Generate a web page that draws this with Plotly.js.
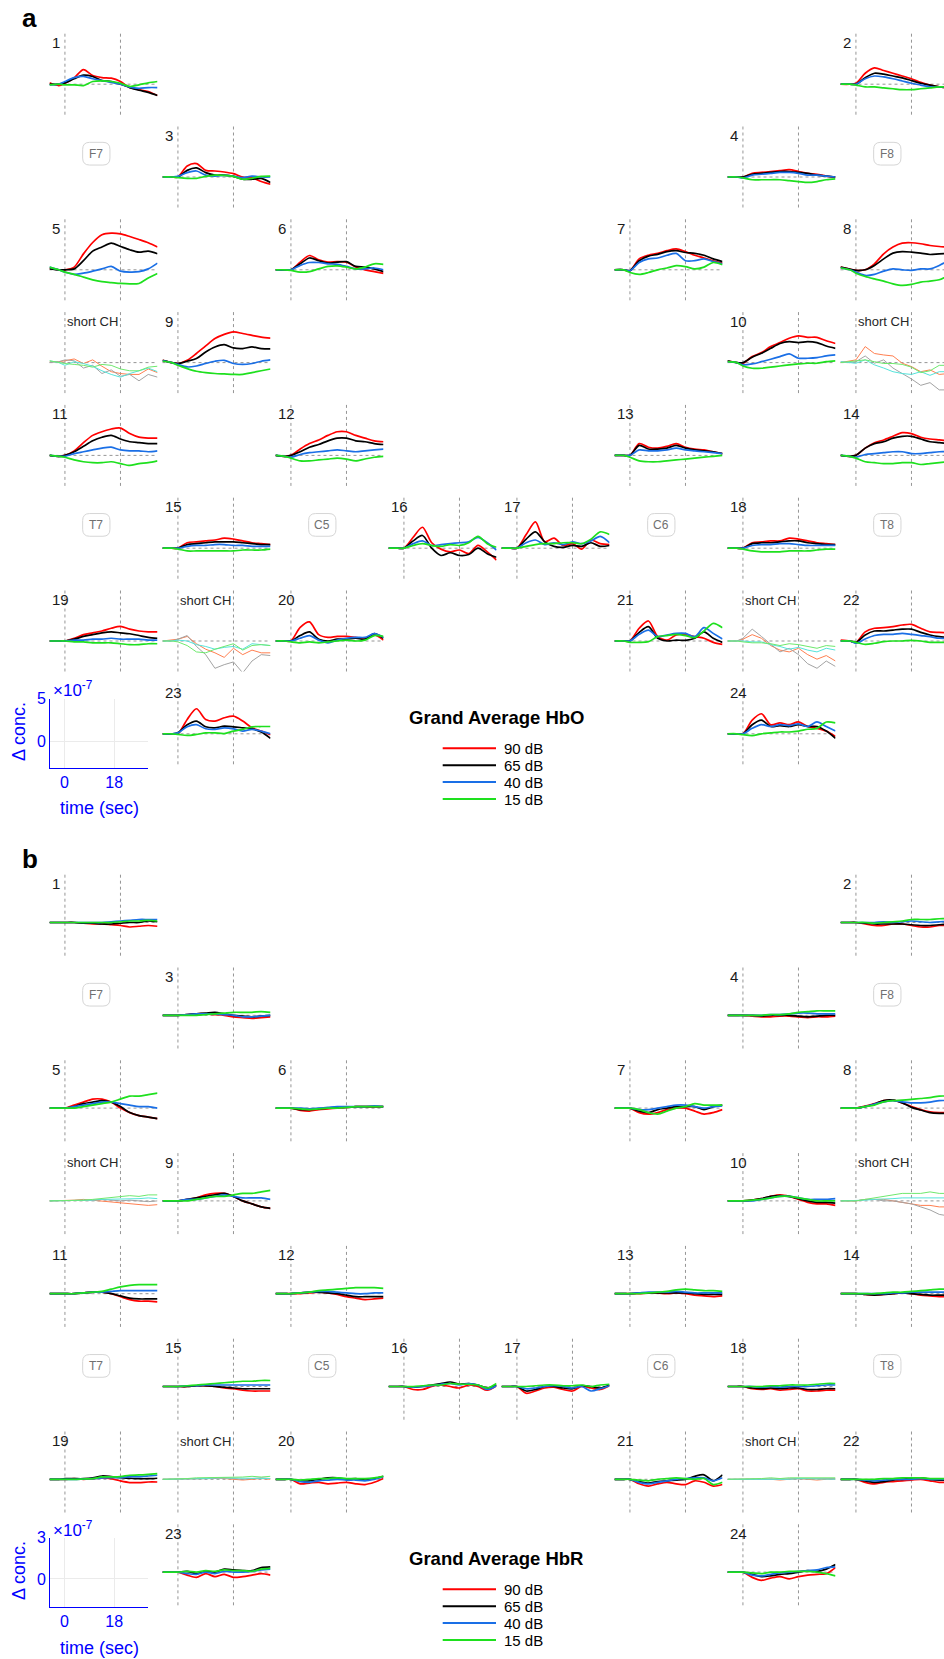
<!DOCTYPE html>
<html><head><meta charset="utf-8">
<script src="https://cdn.plot.ly/plotly-3.0.1.min.js"></script>
<style>html,body{margin:0;padding:0;background:#fff}#chart{width:944px;height:1659px}</style>
</head><body><div id="chart"></div>
<script>
// time samples (sec)
const T = [-5,-2,0,3,6,9,12,15,18,21,24,27,30];
const CONDITIONS = ['90 dB','65 dB','40 dB','15 dB'];
const TIME_TICKS = [0,18];
const HbO_YTICKS = [0,5];
const HbR_YTICKS = [0,3];
const ELECTRODES = ['F7','F8','T7','C5','C6','T8'];

// ---- HbO (x1e-7), order: 90, 65, 40, 15 dB ----
const HbO_1 = [[0.15,-0.15,0.1,0.7,1.6,0.95,0.73,0.66,0.3,-0.37,-0.6,-0.8,-1.25],[0,0,0.15,0.6,1.0,0.85,0.4,0.3,0,-0.37,-0.66,-0.9,-1.25],[-0.07,0,0.3,0.73,0.85,0.6,0.4,0.2,0,-0.33,-0.45,-0.37,-0.37],[-0.07,0,-0.07,-0.07,-0.15,0.3,0.37,0.3,0.1,-0.25,-0.07,0.15,0.3]];
const HbO_2 = [[0,0,0.1,1.2,1.8,1.5,1.2,0.9,0.6,0.2,-0.1,-0.3,-0.4],[0,0,0,0.7,1.2,1.1,0.9,0.7,0.4,0.1,-0.1,-0.3,-0.4],[0,0,0,0.6,0.9,0.8,0.6,0.35,0.1,-0.1,-0.3,-0.3,-0.3],[0,0,-0.1,-0.3,-0.3,-0.4,-0.5,-0.6,-0.6,-0.5,-0.4,-0.3,-0.3]];
const HbO_3 = [[0,0,0,1.2,1.47,0.73,0.66,0.55,0.37,0,-0.07,-0.5,-0.8],[0,0,0,0.73,1.0,0.48,0.2,0.2,0.07,-0.25,-0.25,-0.15,-0.6],[0,0,0.07,0.48,0.66,0.2,0.1,0.18,0.1,-0.07,0.1,0,0],[0,0,-0.07,-0.15,-0.15,0.07,0.2,0.18,0.07,-0.25,-0.15,0.07,0.1]];
const HbO_4 = [[0,0,0,0.4,0.5,0.6,0.7,0.8,0.6,0.4,0.3,0.1,0],[0,0,0,0.3,0.4,0.5,0.6,0.6,0.5,0.4,0.2,0.1,0],[0,0,-0.1,0.2,0.3,0.4,0.5,0.5,0.4,0.2,0.2,0.1,0],[0,0,-0.1,-0.3,-0.3,-0.3,-0.3,-0.4,-0.5,-0.6,-0.5,-0.3,-0.2]];
const HbO_5 = [[0.2,0,0,0.3,1.75,3.0,3.85,4.03,3.95,3.66,3.33,2.97,2.5],[0.1,0,0,0.1,1.0,2.05,2.5,2.93,2.56,2.2,1.94,2.05,1.76],[0.3,0,-0.25,-0.5,-0.37,-0.15,0.1,0.37,-0.15,-0.25,-0.2,0.1,0.73],[0.3,0,-0.25,-0.5,-0.8,-1.1,-1.3,-1.4,-1.5,-1.55,-1.5,-0.9,-0.4]];
const HbO_6 = [[0,0,0,0.84,1.57,1.1,0.84,0.9,0.84,0.3,0,-0.2,-0.4],[0,0,0,0.66,1.3,1.0,0.73,0.84,0.9,0.37,0.3,0.1,-0.2],[0,0,0,0.48,0.8,0.8,0.66,0.6,0.37,0.1,0.1,0.2,0],[0,0,-0.07,-0.25,-0.2,0.1,0.37,0.44,0.3,0.1,0.3,0.66,0.6]];
const HbO_7 = [[0,0,-0.1,1.2,1.6,1.8,2.1,2.3,2.0,1.6,1.3,1.0,0.75],[0,0,-0.1,1.0,1.5,1.7,2.0,2.1,1.9,1.8,1.6,1.2,0.9],[0,0,-0.1,0.8,1.2,1.3,1.6,1.8,1.0,1.0,1.2,0.9,0.66],[0,0,-0.3,-0.5,-0.3,0,0.2,0.45,0.35,0.1,0.3,0.8,0.55]];
const HbO_8 = [[0.3,0.07,-0.07,0,0.66,1.76,2.5,2.93,2.97,2.86,2.67,2.56,2.5],[0.3,0.07,-0.07,0,0.48,1.2,1.83,2.0,1.94,1.83,1.68,1.76,1.8],[0.2,0,-0.25,-0.62,-0.5,-0.15,0.1,0,-0.07,0.1,0.1,0.48,1.0],[0.2,0,-0.37,-0.73,-1.0,-1.25,-1.54,-1.72,-1.6,-1.35,-1.25,-1.1,-0.62]];
const HbO_9 = [[0.25,0,-0.1,0.25,1.0,1.83,2.64,3.1,3.37,3.2,3.0,2.8,2.7],[0.25,0,-0.1,0.15,0.44,1.17,1.72,1.98,1.61,1.54,1.72,1.54,1.5],[0.2,0,-0.2,-0.48,-0.37,-0.1,0.15,0.25,-0.1,-0.2,-0.1,0.15,0.3],[0.15,0,-0.3,-0.66,-0.95,-1.1,-1.2,-1.25,-1.3,-1.3,-1.1,-0.9,-0.7]];
const HbO_10 = [[0.2,0,-0.07,0.66,1.1,1.76,2.2,2.67,2.93,2.78,2.78,2.4,2.1],[0.2,0,0,0.6,1.03,1.57,2.1,2.3,2.2,2.3,2.2,1.83,1.57],[0.1,0,-0.25,-0.15,0.1,0.37,0.66,0.95,0.48,0.48,0.55,0.73,0.84],[0.1,0,-0.37,-0.62,-0.62,-0.5,-0.37,-0.25,-0.15,-0.07,-0.07,0.1,0.2]];
const HbO_11 = [[0,-0.1,0,0.5,1.4,2.2,2.6,2.9,3.0,2.4,2.0,1.9,1.9],[0,-0.1,0,0.4,1.0,1.6,2.0,2.2,1.8,1.5,1.4,1.3,1.3],[0,-0.1,-0.1,0.2,0.4,0.6,0.8,0.9,0.6,0.5,0.5,0.4,0.5],[0,-0.1,-0.2,-0.5,-0.7,-0.8,-0.8,-0.7,-0.9,-1.1,-0.9,-0.8,-0.6]];
const HbO_12 = [[0,-0.1,0,0.7,1.3,1.7,2.2,2.6,2.6,2.2,1.9,1.6,1.5],[0,-0.1,0,0.4,0.9,1.2,1.6,1.9,1.9,1.6,1.5,1.3,1.2],[0,-0.1,-0.2,0.1,0.3,0.4,0.5,0.6,0.5,0.4,0.5,0.6,0.7],[0,-0.1,-0.3,-0.6,-0.6,-0.5,-0.4,-0.3,-0.4,-0.6,-0.4,-0.2,-0.1]];
const HbO_13 = [[0,0,0,1.3,0.9,0.8,1.0,1.3,0.9,0.7,0.6,0.4,0.2],[0,0,0,1.1,0.7,0.7,0.8,1.1,0.8,0.6,0.5,0.4,0.2],[0,0,0,0.6,0.5,0.5,0.6,0.8,0.6,0.5,0.4,0.3,0.2],[0,0,-0.2,-0.6,-0.7,-0.7,-0.6,-0.5,-0.4,-0.3,-0.2,-0.1,0]];
const HbO_14 = [[0,-0.1,0,0.8,1.4,1.7,2.1,2.5,2.4,2.0,1.8,1.7,1.6],[0,-0.1,0,0.8,1.3,1.5,1.9,2.1,2.1,1.8,1.5,1.4,1.3],[0,-0.1,-0.2,0.1,0.2,0.3,0.4,0.4,0.2,0.2,0.3,0.4,0.4],[0,-0.1,-0.3,-0.7,-0.8,-0.9,-0.9,-0.8,-0.8,-1.0,-0.9,-0.8,-0.7]];
const HbO_15 = [[0,0,0,0.6,0.7,0.8,0.9,1.1,1.0,0.8,0.6,0.5,0.4],[0,0,0,0.4,0.5,0.6,0.7,0.7,0.7,0.6,0.5,0.4,0.4],[0,0,0,0.2,0.3,0.3,0.4,0.4,0.3,0.3,0.2,0.2,0.2],[0,0,-0.1,-0.3,-0.3,-0.3,-0.3,-0.3,-0.3,-0.2,-0.2,-0.2,-0.1]];
const HbO_16 = [[0,0,0,1.2,2.3,0.6,-0.1,-0.4,-0.2,-0.6,0.3,-0.4,-1.3],[0,0,0,0.8,1.4,0.0,-0.8,-0.5,-0.8,-0.7,0.0,-0.6,-1.0],[0,0,0,0.5,0.8,0.3,0.4,0.5,0.6,0.7,1.2,0.6,-0.2],[0,0,0,0.3,0.5,0.3,0.2,0.4,0.3,0.6,1.3,0.5,0.1]];
const HbO_17 = [[0,0,0,1.5,2.9,0.7,1.1,0.3,0.5,-0.1,0.9,0.5,0.4],[0,0,0,1.0,1.8,0.7,0.2,0.1,0.3,0.2,0.6,0.2,0.3],[0,0,0,0.6,0.9,0.4,0.6,0.4,0.7,0.5,0.8,1.3,0.6],[0,0,0,0.2,0.4,0.5,0.5,0.6,0.6,0.5,1.0,1.8,1.5]];
const HbO_18 = [[0,0,0,0.6,0.7,0.8,0.8,1.1,1.0,0.8,0.6,0.5,0.4],[0,0,0,0.5,0.6,0.6,0.7,0.8,0.8,0.6,0.5,0.4,0.4],[0,0,0,0.3,0.4,0.4,0.5,0.5,0.4,0.3,0.3,0.3,0.3],[0,0,-0.1,-0.3,-0.4,-0.4,-0.4,-0.3,-0.3,-0.3,-0.2,-0.1,-0.1]];
const HbO_19 = [[0,0,0,0.3,0.7,0.9,1.1,1.4,1.6,1.3,1.1,1.0,1.0],[0,0,0,0.2,0.5,0.7,0.9,1.0,0.9,0.8,0.6,0.4,0.3],[0,0,0,0.1,0.1,0.2,0.2,0.3,0.2,0.2,0.2,0.1,0.1],[0,0,0,-0.1,-0.1,-0.2,-0.2,-0.2,-0.3,-0.4,-0.4,-0.3,-0.3]];
const HbO_20 = [[0,0,0,1.5,2.1,0.7,0.4,0.5,0.5,0.4,0.3,0.7,0.1],[0,0,0,0.6,1.0,0.2,0.0,0.2,0.2,0.3,0.2,0.8,0.3],[0,0,0,0.3,0.6,0.1,-0.2,0.1,0.3,0.4,0.4,0.8,0.4],[0,0,-0.1,-0.2,-0.1,-0.2,-0.1,0.0,0.1,0.0,0.1,0.6,0.5]];
const HbO_21 = [[0,0,0,1.4,2.2,0.48,0.1,0.66,0.73,0.48,0.3,-0.15,-0.37],[0,0,0,0.95,1.57,0.3,0,0.1,0.07,0.3,1.0,0.3,-0.15],[0,0,0,0.73,1.2,0.48,0.66,0.84,0.84,0.48,1.46,0.84,0.22],[0,0,-0.15,-0.15,-0.07,0.48,0.6,0.73,0.6,0.37,1.1,1.94,1.46]];
const HbO_22 = [[0.1,0,-0.15,1.0,1.4,1.46,1.57,1.76,1.83,1.4,1.0,0.95,0.9],[0,0,-0.15,0.66,1.1,1.1,1.2,1.3,1.3,0.95,0.66,0.48,0.4],[0,0,-0.25,0.22,0.6,0.73,0.73,0.84,0.73,0.6,0.48,0.3,0.3],[0,0,-0.15,-0.37,-0.25,-0.07,0,0,0.07,0,-0.15,-0.15,-0.15]];
const HbO_23 = [[0,0,0,1.58,2.75,1.58,1.4,1.76,1.94,1.4,0.66,0.3,-0.1],[0,0,0.1,1.0,1.4,0.77,0.66,0.84,0.77,0.66,0.55,0.2,-0.5],[0,0,0.1,0.77,1.0,0.55,0.48,0.66,0.55,0.3,0.48,0.3,0],[0,0,-0.07,-0.18,-0.07,0.1,0.1,0.03,0.3,0.48,0.77,0.8,0.8]];
const HbO_24 = [[0,0,0,1.5,2.2,1.0,1.2,1.0,1.3,0.8,0.6,0.3,-0.3],[0,0,0,1.0,1.5,0.8,0.9,0.8,1.0,0.8,0.8,0.3,-0.5],[0,0,0,0.6,1.0,0.8,1.0,0.9,1.1,0.8,1.3,0.8,0.3],[0,0,-0.1,-0.2,0,0.1,0.2,0.2,0.3,0.5,0.6,1.3,1.2]];
// short channels (left/right of row 4, and row 7)
const HbO_S1 = [[0.1,0.1,0.2,0.4,-0.1,0.3,-0.4,-1.0,-1.2,-1.3,-1.3,-0.7,-1.1],[0,0.1,0.3,0.2,-0.6,-0.3,-1.2,-0.8,-1.5,-1.3,-2.0,-1.3,-1.6],[0.2,0,-0.3,0.1,-0.1,-0.4,-0.9,-1.3,-1.6,-1.2,-0.9,-0.6,-1.0],[0.2,0,-0.1,-0.2,-0.3,-0.5,-0.2,-0.3,-0.7,-0.9,-0.9,-0.5,-0.4]];
const HbO_S2 = [[0,0.2,0.3,1.76,1.0,0.84,0.73,-0.07,-0.44,-1.0,-0.8,-1.3,-1.2],[0.1,0,0.1,0.73,-0.07,0.3,-0.6,-1.2,-1.8,-2.5,-2.2,-3.0,-3.0],[0.1,0,-0.07,0.3,-0.25,-0.6,-1.0,-1.2,-1.3,-1.0,-1.4,-1.0,-1.0],[0,0.1,0.2,0.3,0.1,-0.1,-0.1,-0.2,-0.5,-1.1,-0.9,-0.3,-0.3]];
const HbO_S3 = [[0,0.1,0.2,0.5,-0.3,-0.9,-1.3,-1.8,-0.8,-1.5,-1.0,-1.3,-1.3],[0,0,0.2,0.6,-0.6,-1.5,-3.0,-2.6,-2.3,-3.5,-2.2,-1.5,-1.6],[0,0,0.1,0.0,-0.4,-0.6,-0.9,-0.7,-0.6,-0.9,-0.3,-0.4,-0.5],[0,0,-0.1,-0.5,-1.2,-1.3,-0.9,-0.6,-0.3,-1.0,-0.5,-0.4,-0.5]];
const HbO_S4 = [[0,0,0.2,0.7,0.3,-0.5,-1.0,-1.2,-0.8,-1.5,-2.0,-1.6,-2.2],[0,0,0.3,1.3,0.5,-0.4,-1.2,-0.8,-1.5,-2.5,-3.0,-2.2,-2.8],[0,0,0,-0.1,-0.1,-0.4,-0.6,-0.9,-0.7,-1.0,-1.2,-0.8,-1.0],[0,0,-0.1,-0.2,-0.2,-0.3,-0.5,-0.3,-0.4,-0.6,-0.8,-0.5,-0.6]];

// ---- HbR (x1e-7) ----
const HbR_1 = [[0,0,0,0,-0.05,-0.1,-0.1,-0.15,-0.2,-0.3,-0.25,-0.2,-0.25],[0,0,0,0,-0.05,-0.05,-0.1,-0.1,-0.05,0,0,0.1,0.05],[0,0,0,0,0,0,0,0.05,0.1,0.15,0.2,0.2,0.2],[0,0,0,0,0,0,0,0,0.05,0.1,0.1,0.15,0.1]];
const HbR_2 = [[0,0,0,-0.1,-0.2,-0.2,-0.1,-0.1,-0.2,-0.3,-0.3,-0.2,-0.2],[0,0,0,-0.05,-0.1,-0.1,-0.1,-0.1,-0.15,-0.2,-0.2,-0.15,-0.1],[0,0,0,0,0,0.05,0,0.05,0.1,0.05,0,0.05,0.05],[0,0,0,0,-0.05,0,0.05,0.1,0.2,0.2,0.2,0.25,0.25]];
const HbR_3 = [[0,0,0,0.05,0.1,0.1,0.05,0,-0.1,-0.15,-0.2,-0.15,-0.1],[0,0,0,0.05,0.1,0.15,0.2,0.1,0,-0.05,-0.1,-0.05,0],[0,0,0,0.05,0.1,0.1,0.1,0.05,0,-0.1,-0.1,-0.05,0],[0,0,0,0,0,0.05,0.1,0.15,0.2,0.2,0.2,0.25,0.2]];
const HbR_4 = [[0,0,0,-0.05,-0.1,-0.1,-0.05,-0.05,-0.1,-0.15,-0.1,-0.1,-0.05],[0,0,0,0,-0.05,0,0,0,-0.05,-0.1,-0.05,0,0],[0,0,0,0,0,0.05,0.05,0.1,0.15,0.15,0.1,0.1,0.1],[0,0,0,0,0,0.05,0.05,0.1,0.2,0.25,0.3,0.3,0.3]];
const HbR_5 = [[0,0,0,0.2,0.4,0.6,0.6,0.4,0.0,-0.3,-0.5,-0.6,-0.7],[0,0,0,0.1,0.3,0.4,0.5,0.4,0.1,-0.3,-0.5,-0.6,-0.7],[0,0,0,0.1,0.2,0.3,0.4,0.4,0.3,0.2,0.1,0.1,0.0],[0,0,0,0,0.1,0.2,0.3,0.4,0.6,0.8,0.8,0.9,1.0]];
const HbR_6 = [[0,0,0,-0.15,-0.2,-0.1,-0.05,0,0.05,0.1,0.1,0.1,0.1],[0,0,0,-0.1,-0.1,-0.05,0,0.05,0.05,0.1,0.1,0.1,0.1],[0,0,0,0,-0.05,0,0.05,0.1,0.1,0.1,0.1,0.15,0.1],[0,0,0,-0.05,-0.1,-0.05,0,0,0.05,0.1,0.1,0.1,0.1]];
const HbR_7 = [[0,0,0,-0.3,-0.4,-0.3,-0.1,0,0,-0.2,-0.4,-0.3,-0.1],[0,0,0,-0.2,-0.3,-0.1,0,0.1,0.1,0.1,-0.1,0.1,0.2],[0,0,0,-0.1,-0.1,0,0.1,0.2,0.2,0.1,0,0.1,0.15],[0,0,0,-0.1,-0.3,-0.4,-0.2,0,0.1,0.3,0.2,0.2,0.2]];
const HbR_8 = [[0,0,0,0.13,0.3,0.5,0.53,0.35,0.1,-0.1,-0.25,-0.3,-0.3],[0,0,0,0.1,0.27,0.5,0.53,0.35,0.05,-0.13,-0.3,-0.35,-0.35],[0,0,0,0.1,0.27,0.42,0.5,0.42,0.35,0.35,0.4,0.5,0.5],[0,0,0,0.1,0.2,0.42,0.5,0.53,0.58,0.64,0.7,0.8,0.8]];
const HbR_9 = [[0,0,0,0.1,0.2,0.4,0.5,0.5,0.3,0,-0.2,-0.4,-0.5],[0,0,0,0.1,0.2,0.3,0.4,0.5,0.3,0,-0.2,-0.4,-0.5],[0,0,0,0.1,0.1,0.2,0.3,0.4,0.3,0.2,0.2,0.2,0.1],[0,0,0,0,0.1,0.2,0.3,0.3,0.4,0.5,0.5,0.6,0.7]];
const HbR_10 = [[0,0,0,0.05,0.15,0.3,0.4,0.3,0.1,-0.1,-0.2,-0.2,-0.3],[0,0,0,0.05,0.15,0.3,0.35,0.3,0.15,0,-0.1,-0.1,-0.15],[0,0,0,0,0.1,0.2,0.3,0.3,0.2,0.1,0.1,0.1,0.15],[0,0,0,0.05,0.1,0.2,0.3,0.3,0.2,0.1,0,0,0]];
const HbR_11 = [[0,0,0,0,0.05,0.1,0.1,0,-0.2,-0.4,-0.5,-0.5,-0.55],[0,0,0,0,0.05,0.1,0.1,0,-0.15,-0.3,-0.35,-0.35,-0.35],[0,0,0,0,0.05,0.1,0.1,0.15,0.2,0.2,0.2,0.2,0.2],[0,0,0,0,0.05,0.1,0.15,0.3,0.45,0.55,0.6,0.6,0.6]];
const HbR_12 = [[0,0,0,0,0.05,0.1,0.05,-0.05,-0.2,-0.3,-0.4,-0.35,-0.3],[0,0,0,0.05,0.1,0.1,0.05,0,-0.1,-0.2,-0.2,-0.2,-0.2],[0,0,0,0.05,0.1,0.15,0.15,0.1,0.05,0,0,0.05,0.05],[0,0,0,0.05,0.1,0.2,0.25,0.3,0.35,0.4,0.4,0.4,0.35]];
const HbR_13 = [[0,0,0,0,0.05,0.05,0,0.05,0,-0.1,-0.15,-0.2,-0.15],[0,0,0,0.05,0.05,0.05,0.05,0.05,0.05,0,-0.05,-0.05,-0.05],[0,0,0,0.05,0.1,0.1,0.1,0.15,0.1,0.05,0.05,0.05,0.05],[0,0,0,0,0.05,0.1,0.15,0.25,0.3,0.25,0.2,0.2,0.15]];
const HbR_14 = [[0,0,0,-0.05,-0.1,-0.05,0,0.05,0,-0.1,-0.15,-0.2,-0.2],[0,0,0,-0.05,-0.1,-0.05,0,0.05,0,-0.05,-0.1,-0.1,-0.1],[0,0,0,0,0,0,0.05,0.05,0.1,0.1,0.1,0.1,0.1],[0,0,0,0,0,0.05,0.1,0.1,0.15,0.2,0.25,0.3,0.3]];
const HbR_15 = [[0,0,0,0,0.05,0.05,0,-0.1,-0.15,-0.25,-0.3,-0.3,-0.3],[0,0,0,0,0.05,0.05,0,-0.05,-0.1,-0.15,-0.15,-0.15,-0.15],[0,0,0,0.05,0.05,0.1,0.1,0.1,0.1,0.1,0.1,0.1,0.1],[0,0,0,0.05,0.1,0.15,0.2,0.25,0.3,0.35,0.35,0.4,0.4]];
const HbR_16 = [[0,0,0,-0.2,-0.2,0,0.1,0,-0.1,0.1,0,-0.25,0.05],[0,0,0,-0.05,0,0.1,0.2,0.3,0.15,0.2,0.1,-0.1,0.1],[0,0,0,-0.05,0,0.05,0.15,0.2,0.1,0.2,0.1,-0.2,0.05],[0,0,0,0,0.05,0.1,0.1,0.2,0.15,0.15,0.1,-0.1,0.2]];
const HbR_17 = [[0,0,0,-0.45,-0.3,-0.1,-0.05,-0.2,-0.3,0,-0.1,-0.2,0.05],[0,0,0,-0.3,-0.2,0,0,-0.1,-0.15,0.05,0,-0.1,0.1],[0,0,0,-0.15,-0.1,0,0.05,0,-0.1,0,-0.3,-0.15,0.05],[0,0,0,0,0.05,0.1,0.1,0.05,0.05,0.1,0,0.1,0.15]];
const HbR_18 = [[0,0,0,-0.15,-0.2,-0.15,-0.25,-0.2,-0.15,-0.3,-0.3,-0.25,-0.25],[0,0,0,-0.1,-0.15,-0.1,-0.15,-0.1,-0.1,-0.2,-0.2,-0.15,-0.15],[0,0,0,0,-0.05,0,-0.05,0,0,0,0.05,0.1,0.1],[0,0,0,0,0,0.05,0.05,0.1,0.1,0.1,0.15,0.2,0.2]];
const HbR_19 = [[0,0,0,0.04,0,0.04,0.09,0.04,-0.11,-0.22,-0.22,-0.18,-0.18],[0,0,0.04,0.04,0.04,0.09,0.22,0.18,0.11,0.07,0.04,0.04,0.07],[0,0,0,0,0.02,0.04,0.09,0.11,0.11,0.18,0.18,0.22,0.27],[0,0,0,0,0.02,0.04,0.16,0.16,0.18,0.27,0.29,0.33,0.38]];
const HbR_20 = [[0,0,0,-0.3,-0.25,-0.2,-0.3,-0.25,-0.2,-0.3,-0.35,-0.2,0.05],[0,0,0,-0.1,-0.1,0,0.1,0.1,0,0.05,-0.05,0.05,0.2],[0,0,0,-0.15,-0.2,-0.1,-0.05,0,-0.05,-0.05,-0.1,0,0.15],[0,0,0,-0.05,0,0.05,0.05,0.1,0.05,0.05,0.05,0.1,0.2]];
const HbR_21 = [[0,0,0,-0.3,-0.45,-0.3,-0.2,-0.3,-0.35,-0.1,-0.2,-0.45,-0.35],[0,0,0,-0.15,-0.25,-0.15,-0.1,-0.05,0,0.2,0.3,-0.1,0.3],[0,0,0,-0.2,-0.3,-0.2,-0.1,0,0.05,0.1,0.1,-0.1,0.1],[0,0,0,-0.05,-0.1,0,0.05,0.1,0.05,0,0.05,-0.35,-0.2]];
const HbR_22 = [[0,0,0,-0.2,-0.3,-0.2,-0.15,-0.1,-0.05,0,-0.1,-0.2,-0.2],[0,0,0,-0.1,-0.2,-0.15,-0.05,0,0.05,0.1,0,-0.05,-0.05],[0,0,0,-0.05,-0.1,-0.05,0,0,0,0.05,0,0,0],[0,0,0,0,0,0.05,0.05,0.1,0.1,0.1,0.05,0.05,0.05]];
const HbR_23 = [[0,0,0,-0.2,-0.35,-0.1,-0.3,-0.15,-0.35,-0.3,-0.2,-0.1,-0.2],[0,0,0,0.05,-0.1,0.05,0,0.2,0.15,0.1,0.1,0.3,0.35],[0,0,0,-0.1,-0.15,0,-0.1,0.05,0,0,0.05,0.15,0.2],[0,0,0,0.05,0,0.1,0.05,0.15,0.1,0.1,0.05,0.2,0.25]];
const HbR_24 = [[0,0,0,-0.35,-0.55,-0.4,-0.3,-0.45,-0.3,-0.2,-0.15,-0.1,0.3],[0,0,0,-0.15,-0.3,-0.25,-0.15,-0.1,0,0.1,0.05,0.2,0.5],[0,0,0,-0.2,-0.25,-0.15,-0.05,0,0.05,0.1,0.15,0.3,0.35],[0,0,0,-0.05,-0.1,0,0,0.05,0.05,0.05,0,-0.1,-0.25]];
const HbR_S1 = [[0,0,0,0.05,0.1,0.05,0,-0.05,-0.1,-0.15,-0.2,-0.3,-0.25],[0,0,0,0.05,0,0.05,0.1,0.05,0,0.05,0,-0.05,0],[0,0,0,0,0.05,0.05,0.1,0.1,0.15,0.1,0.15,0.2,0.15],[0,0,0,0,0.05,0.1,0.15,0.2,0.3,0.35,0.3,0.4,0.4]];
const HbR_S2 = [[0,0,0,0.1,0.1,0.1,0,-0.1,-0.2,-0.3,-0.3,-0.4,-0.4],[0,0,0,0.1,0.1,0,0,-0.1,-0.2,-0.4,-0.6,-0.9,-1.0],[0,0,0,0.05,0.1,0.1,0.15,0.2,0.2,0.2,0.25,0.2,0.2],[0,0,0,0.1,0.2,0.3,0.4,0.5,0.5,0.5,0.6,0.5,0.5]];
const HbR_S3 = [[0,0,0,0.05,0,0.05,0.1,0.05,0,-0.05,0,0.05,0],[0,0,0,0,0.05,0,0.05,0.1,0.05,0,0.05,0.1,0.05],[0,0,0,0,0.05,0.05,0.1,0.1,0.1,0.05,0.1,0.1,0.05],[0,0,0,0.05,0.1,0.1,0.1,0.15,0.1,0.15,0.2,0.15,0.2]];
const HbR_S4 = [[0,0,0,0,0.05,0,-0.05,0,0.05,0,-0.05,0,0],[0,0,0,0.05,0,0.05,0,0.05,0.05,0,0.05,0.05,0.05],[0,0,0,0,0,-0.05,0,0,0.05,0.05,0,0.05,0],[0,0,0,0.05,0.05,0.1,0.05,0.1,0.1,0.05,0.1,0.1,0.1]];

// ---- tables built from the arrays ----
const HbO = {'1':HbO_1,'2':HbO_2,'3':HbO_3,'4':HbO_4,'5':HbO_5,'6':HbO_6,'7':HbO_7,'8':HbO_8,'9':HbO_9,'10':HbO_10,'11':HbO_11,'12':HbO_12,'13':HbO_13,'14':HbO_14,'15':HbO_15,'16':HbO_16,'17':HbO_17,'18':HbO_18,'19':HbO_19,'20':HbO_20,'21':HbO_21,'22':HbO_22,'23':HbO_23,'24':HbO_24,'S1':HbO_S1,'S2':HbO_S2,'S3':HbO_S3,'S4':HbO_S4};
const HbR = {'1':HbR_1,'2':HbR_2,'3':HbR_3,'4':HbR_4,'5':HbR_5,'6':HbR_6,'7':HbR_7,'8':HbR_8,'9':HbR_9,'10':HbR_10,'11':HbR_11,'12':HbR_12,'13':HbR_13,'14':HbR_14,'15':HbR_15,'16':HbR_16,'17':HbR_17,'18':HbR_18,'19':HbR_19,'20':HbR_20,'21':HbR_21,'22':HbR_22,'23':HbR_23,'24':HbR_24,'S1':HbR_S1,'S2':HbR_S2,'S3':HbR_S3,'S4':HbR_S4};

// ---- layout / style ----
const W = 944, H = 1659;
const FONT = '"Liberation Sans", Arial, Helvetica, sans-serif';
const COLORS = ['#ff0000','#000000','#1a6fe6','#1ee01e'];
const SHORT_COLORS = ['#ff7f50','#a3a3a3','#55e3da','#6ee86e'];
const GRID = [['1',0,0],['2',7,0],['3',1,1],['4',6,1],['5',0,2],['6',2,2],['7',5,2],['8',7,2],
  ['S1',0,3],['9',1,3],['10',6,3],['S2',7,3],['11',0,4],['12',2,4],['13',5,4],['14',7,4],
  ['15',1,5],['16',3,5],['17',4,5],['18',6,5],['19',0,6],['S3',1,6],['20',2,6],['21',5,6],['S4',6,6],['22',7,6],
  ['23',1,7],['24',6,7]];
const ELECTRODE_CELLS = [[0,1],[7,1],[0,5],[2,5],[5,5],[7,5]];
const COLX0 = 49.5, COLDX = 113, SUBW = 108, ROWY0 = 31.7, ROWDY = 92.8, SUBH = 83;
const TSPAN = 35;

const PANELS = [
  {data:HbO, dy:0, ppu:9.1, base:52.5, letter:'a', title:'Grand Average HbO', yticks:HbO_YTICKS, yr:[-3,5], ydom:[698.5,767.5]},
  {data:HbR, dy:841, ppu:15, base:49.8, letter:'b', title:'Grand Average HbR', yticks:HbR_YTICKS, yr:[-2,3], ydom:[1537.5,1606.5]}
];

const traces = [], shapes = [], annotations = [];
const layout = {width:W, height:H, margin:{l:0,r:0,t:0,b:0}, paper_bgcolor:'#ffffff', plot_bgcolor:'rgba(0,0,0,0)',
  showlegend:false, font:{family:FONT, color:'#000'}, hovermode:false};
let n = 0;
function axId(k){ return k===1 ? '' : String(k); }
function addAxes(x0,x1,y0,y1,xr,yr,ex,ey){
  n++;
  const id = axId(n);
  layout['xaxis'+id] = Object.assign({domain:[x0/W, Math.min(x1,W)/W], range:xr, visible:false, fixedrange:true, anchor:'y'+id}, ex||{});
  layout['yaxis'+id] = Object.assign({domain:[1-y1/H, 1-y0/H], range:yr, visible:false, fixedrange:true, anchor:'x'+id}, ey||{});
  return ['x'+id, 'y'+id];
}
function ann(text, x, y, o){
  annotations.push(Object.assign({text:text, x:x/W, y:1-y/H, xref:'paper', yref:'paper', showarrow:false,
    xanchor:'center', yanchor:'middle', font:{family:FONT, size:15, color:'#1a1a1a'}}, o||{}));
}
function rrect(cx, cy, w, h, r){
  const l=cx-w/2, R=cx+w/2, t=cy-h/2, b=cy+h/2;
  const P=(x,y)=> (x/W).toFixed(5)+','+(1-y/H).toFixed(5);
  return 'M'+P(l+r,t)+' L'+P(R-r,t)+' Q'+P(R,t)+' '+P(R,t+r)+' L'+P(R,b-r)+' Q'+P(R,b)+' '+P(R-r,b)+
    ' L'+P(l+r,b)+' Q'+P(l,b)+' '+P(l,b-r)+' L'+P(l,t+r)+' Q'+P(l,t)+' '+P(l+r,t)+' Z';
}

PANELS.forEach(function(p){
  GRID.forEach(function(g){
    const name=g[0], c=g[1], r=g[2];
    const x0 = COLX0 + COLDX*c, x1 = x0 + SUBW;
    const y0 = ROWY0 + ROWDY*r + p.dy, y1 = y0 + SUBH;
    const xr = [-5, -5 + (Math.min(x1,W)-x0)/SUBW*TSPAN];
    const yr = [-(SUBH-p.base)/p.ppu, p.base/p.ppu];
    const ax = addAxes(x0,x1,y0,y1,xr,yr);
    const isShort = name.charAt(0)==='S';
    [0,18].forEach(function(tv){
      shapes.push({type:'line', xref:ax[0], yref:ax[1]+' domain', x0:tv, x1:tv, y0:0, y1:1, layer:'below',
        line:{color:'#969696', width:1, dash:'dot'}});
    });
    shapes.push({type:'line', xref:ax[0]+' domain', yref:ax[1], x0:0, x1:1, y0:0, y1:0, layer:'below',
      line:{color:'#969696', width:1, dash:'dot'}});
    const series = p.data[name];
    series.forEach(function(vals, i){
      traces.push({x:T, y:vals, xaxis:ax[0], yaxis:ax[1], type:'scatter', mode:'lines', name:CONDITIONS[i],
        line: isShort ? {color:SHORT_COLORS[i], width:1, shape:'linear'} : {color:COLORS[i], width:1.7, shape:'spline', smoothing:0.8},
        hoverinfo:'skip'});
    });
    if (isShort) ann('short CH', x0 + 43.2, y0 + 11.7, {font:{family:FONT, size:13, color:'#262626'}});
    else ann(name, x0, y0 + 11, {xanchor:'left', font:{family:FONT, size:15, color:'#1a1a1a'}});
  });
  ELECTRODE_CELLS.forEach(function(e, i){
    const cx = COLX0 + COLDX*e[0] + 46.8;
    const cy = ROWY0 + ROWDY*e[1] + 29.2 + p.dy;
    shapes.push({type:'path', xref:'paper', yref:'paper', path:rrect(cx, cy, 27.3, 22.7, 7), line:{color:'#d6d6d6', width:1}, fillcolor:'rgba(0,0,0,0)'});
    ann(ELECTRODES[i], cx, cy, {font:{family:FONT, size:12, color:'#707070'}});
  });
  const blue = '#0000ff';
  const sax = addAxes(50, 147.5, p.ydom[0], p.ydom[1], [-5.2, 30], p.yr,
    {visible:true, showline:true, linecolor:blue, linewidth:1, tickmode:'array', tickvals:TIME_TICKS, ticktext:TIME_TICKS.map(String), ticks:'',
     showgrid:true, gridcolor:'#ebebeb', zeroline:false, tickfont:{family:FONT, size:16, color:blue}},
    {visible:true, showline:true, linecolor:blue, linewidth:1, tickmode:'array', tickvals:p.yticks, ticktext:p.yticks.map(String), ticks:'',
     showgrid:true, gridcolor:'#ebebeb', zeroline:false, tickfont:{family:FONT, size:16, color:blue}});
  traces.push({x:[TIME_TICKS[0]], y:[p.yticks[0]], xaxis:sax[0], yaxis:sax[1], type:'scatter', mode:'markers',
    marker:{size:1, color:'rgba(0,0,0,0)'}, hoverinfo:'skip'});
  const sy = p.ydom[0];
  ann('\u00d710<sup>-7</sup>', 51, sy - 9, {xanchor:'left', font:{family:FONT, size:17, color:blue}});
  ann('\u0394 conc.', 19, (p.ydom[0]+p.ydom[1])/2 - 1, {textangle:-90, font:{family:FONT, size:18, color:blue}});
  ann('time (sec)', 99.5, p.ydom[1] + 41, {font:{family:FONT, size:18, color:blue}});
  const ly = p.dy;
  ann('<b>'+p.title+'</b>', 407, 717.7 + ly, {xanchor:'left', font:{family:FONT, size:18.5, color:'#000'}});
  CONDITIONS.forEach(function(cn, i){
    const yy = 748.3 + 16.9*i + ly;
    shapes.push({type:'line', xref:'paper', yref:'paper', x0:442.7/W, x1:496/W, y0:1-yy/H, y1:1-yy/H, line:{color:COLORS[i], width:2}});
    ann(cn, 501.5, yy, {xanchor:'left', font:{family:FONT, size:15, color:'#000'}});
  });
  ann('<b>'+p.letter+'</b>', 19.5, 18.2 + p.dy, {xanchor:'left', font:{family:FONT, size:26, color:'#000'}});
});

layout.shapes = shapes;
layout.annotations = annotations;
Plotly.newPlot('chart', traces, layout, {staticPlot:true, displayModeBar:false});
</script></body></html>
